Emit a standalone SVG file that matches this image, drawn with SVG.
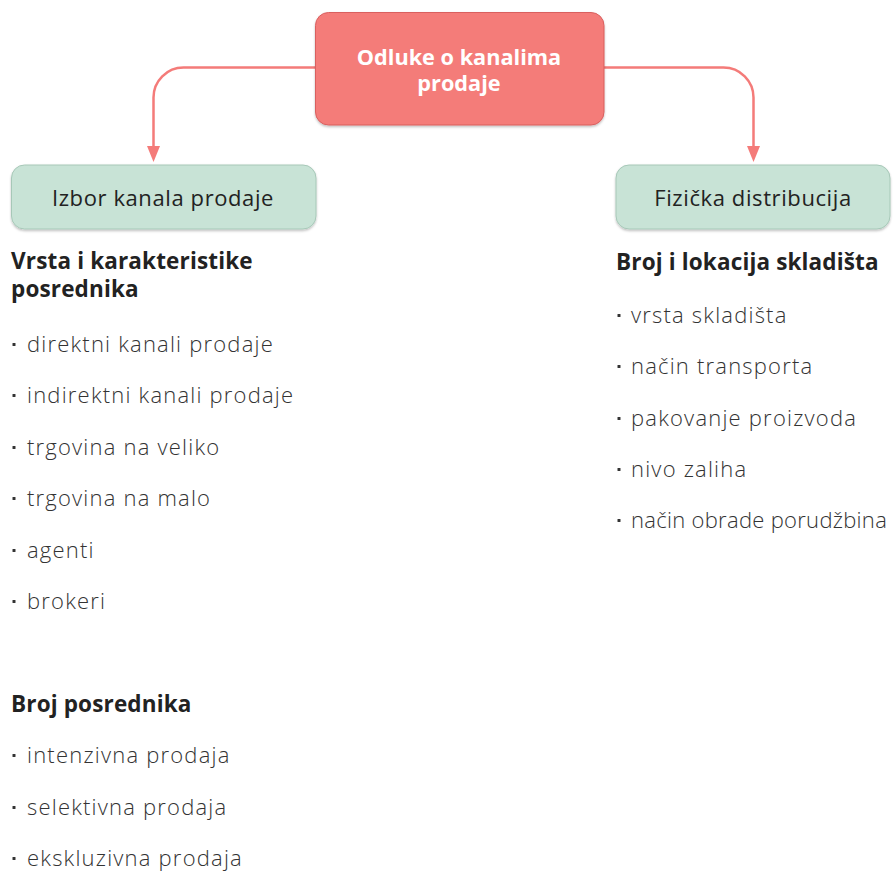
<svg xmlns="http://www.w3.org/2000/svg" width="895" height="872" viewBox="0 0 895 872">
  <defs>
    <style>
      .root-box { fill: #f47b79; stroke: #d9605f; stroke-width: 1; }
      .sub-box { fill: #c8e3d6; stroke: #a7c8b8; stroke-width: 1; }
      .root-label { font-family: "Open Sans", "Noto Sans", sans-serif; font-weight: 700; font-size: 21.7px; fill: #ffffff; text-anchor: middle; }
      .sub-label { font-family: "Open Sans", "Noto Sans", sans-serif; font-weight: 400; font-size: 22px; letter-spacing: 0.6px; fill: #222222; text-anchor: middle; }
      .heading { font-family: "Open Sans", "Noto Sans", sans-serif; font-weight: 700; font-size: 22.5px; letter-spacing: 0.15px; fill: #222222; }
      .item { font-family: "Open Sans", "Noto Sans", sans-serif; font-weight: 300; font-size: 22px; letter-spacing: 1.2px; fill: #333333; }
      .dot { fill: #333333; }
      .link { fill: none; stroke: #f47b79; stroke-width: 2.5; }
      .head { fill: #f47b79; }
    </style>
    <filter id="shadow" x="-10%" y="-20%" width="120%" height="150%">
      <feDropShadow dx="0" dy="1.5" stdDeviation="1.2" flood-color="#000000" flood-opacity="0.25"/>
    </filter>
    <!-- list bullet -->
    <rect id="bullet" width="3" height="3" rx="0.5"/>
  </defs>

  <!-- connectors -->
  <g id="connectors">
    <path class="link" d="M316 67.5 H183.5 A30 30 0 0 0 153.5 97.5 V146"/>
    <path class="head" d="M147 146 L160 146 L153.5 162 Z"/>
    <path class="link" d="M604 67.5 H723.5 A30 30 0 0 1 753.5 97.5 V146"/>
    <path class="head" d="M747 146 L760 146 L753.5 162 Z"/>
  </g>

  <!-- root node -->
  <g id="node-root">
    <rect class="root-box" x="315.5" y="12.5" width="288.5" height="112.5" rx="13" filter="url(#shadow)"/>
    <text class="root-label" x="459" y="65">Odluke o kanalima<tspan x="459" y="91">prodaje</tspan></text>
  </g>

  <!-- left branch node -->
  <g id="node-izbor">
    <rect class="sub-box" x="11.5" y="165" width="304.5" height="64" rx="13" filter="url(#shadow)"/>
    <text class="sub-label" x="163" y="206">Izbor kanala prodaje</text>
  </g>

  <!-- right branch node -->
  <g id="node-fizicka">
    <rect class="sub-box" x="616" y="165" width="274" height="64" rx="13" filter="url(#shadow)"/>
    <text class="sub-label" x="753" y="206">Fizička distribucija</text>
  </g>

  <!-- left column list -->
  <g id="list-left">
    <text class="heading" x="11" y="269">Vrsta i karakteristike<tspan x="11" y="297">posrednika</tspan></text>
    <use href="#bullet" class="dot" x="12.5" y="343"/>
    <text class="item" x="27" y="352">direktni kanali prodaje</text>
    <use href="#bullet" class="dot" x="12.5" y="394"/>
    <text class="item" x="27" y="403">indirektni kanali prodaje</text>
    <use href="#bullet" class="dot" x="12.5" y="446"/>
    <text class="item" x="27" y="455">trgovina na veliko</text>
    <use href="#bullet" class="dot" x="12.5" y="497"/>
    <text class="item" x="27" y="506">trgovina na malo</text>
    <use href="#bullet" class="dot" x="12.5" y="549"/>
    <text class="item" x="27" y="558">agenti</text>
    <use href="#bullet" class="dot" x="12.5" y="600"/>
    <text class="item" x="27" y="609">brokeri</text>
    <text class="heading" x="11" y="712">Broj posrednika</text>
    <use href="#bullet" class="dot" x="12.5" y="754"/>
    <text class="item" x="27" y="763">intenzivna prodaja</text>
    <use href="#bullet" class="dot" x="12.5" y="806"/>
    <text class="item" x="27" y="815">selektivna prodaja</text>
    <use href="#bullet" class="dot" x="12.5" y="857"/>
    <text class="item" x="27" y="866">ekskluzivna prodaja</text>
  </g>

  <!-- right column list -->
  <g id="list-right">
    <text class="heading" x="616" y="270">Broj i lokacija skladišta</text>
    <use href="#bullet" class="dot" x="617.5" y="314"/>
    <text class="item" x="631" y="323">vrsta skladišta</text>
    <use href="#bullet" class="dot" x="617.5" y="365"/>
    <text class="item" x="631" y="374">način transporta</text>
    <use href="#bullet" class="dot" x="617.5" y="417"/>
    <text class="item" x="631" y="426">pakovanje proizvoda</text>
    <use href="#bullet" class="dot" x="617.5" y="468"/>
    <text class="item" x="631" y="477">nivo zaliha</text>
    <use href="#bullet" class="dot" x="617.5" y="519"/>
    <text class="item" x="631" y="528" textLength="257" lengthAdjust="spacing">način obrade porudžbina</text>
  </g>
</svg>
